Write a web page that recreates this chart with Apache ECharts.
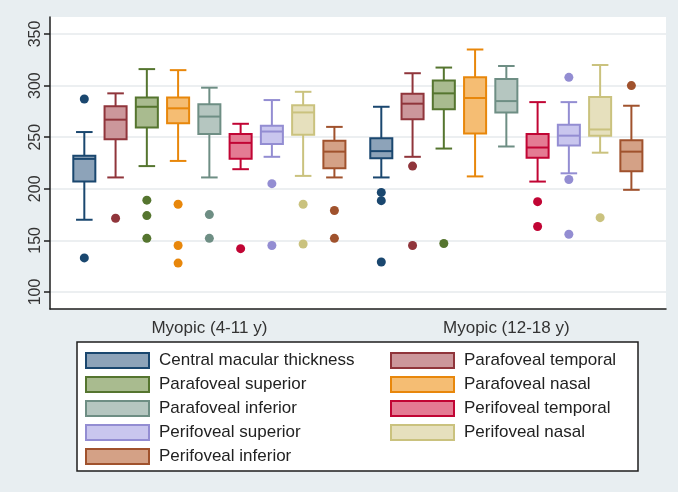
<!DOCTYPE html>
<html><head><meta charset="utf-8">
<script src="https://cdn.jsdelivr.net/npm/echarts@6/dist/echarts.min.js"></script>
<style>html,body{margin:0;padding:0;background:#fff}#c{width:678px;height:492px}</style>
</head><body><div id="c"></div>
<script>
const groups = ['Myopic (4-11 y)', 'Myopic (12-18 y)'];
const measures = ['Central macular thickness', 'Parafoveal temporal', 'Parafoveal superior',
  'Parafoveal nasal', 'Parafoveal inferior', 'Perifoveal temporal', 'Perifoveal superior',
  'Perifoveal nasal', 'Perifoveal inferior'];
// [lower whisker, Q1, median, Q3, upper whisker]
const box4to11 = [
  [170, 207, 229, 232, 255],
  [211, 248, 267, 280, 292.5],
  [222, 259.5, 279.5, 288.5, 316],
  [227, 263.5, 278, 288.5, 315],
  [211, 253, 270, 282, 298],
  [219, 229, 244.5, 253, 263],
  [231, 243.5, 255.5, 261, 286],
  [212.5, 252.5, 274, 281, 294],
  [211, 220, 236, 246.5, 260]
];
const box12to18 = [
  [211, 229.5, 236.5, 249, 279.5],
  [231, 267.5, 282.5, 292, 312],
  [239, 277, 292.5, 305, 317.5],
  [212, 253.5, 288, 308, 335],
  [241, 274, 285, 306.5, 319],
  [207, 230, 240, 253, 284],
  [215, 242, 251.5, 262, 284],
  [235, 251.5, 257.5, 289, 320],
  [199, 217, 236, 247, 280.5]
];
const outliers4to11 = [
  [287, 133], [171.5], [189, 174, 152], [185, 145, 128], [175, 152],
  [142], [205, 145], [185, 146.5], [179, 152]
];
const outliers12to18 = [
  [196.5, 188.5, 129], [222, 145], [147], [], [],
  [187.5, 163.5], [308, 209, 156], [172], [300]
];
const yTicks = [100, 150, 200, 250, 300, 350];

const lineColors = ['#1a476f', '#90353b', '#55752f', '#e8870b', '#6e8e84', '#c10534', '#938dd2', '#cac27e', '#a0522d'];
const fillColors = ['#8da3b9', '#cc979b', '#a9bb8f', '#f5bd73', '#b5c6c0', '#e47b93', '#c9c6ee', '#e6e0bd', '#d4a186'];

const boxes = [box4to11, box12to18];
const outliers = [outliers4to11, outliers12to18];
const groupStart = [0, 19];
const slotCount = 36;
const slotLabels = Array(slotCount).fill('');
groups.forEach((g, gi) => { slotLabels[groupStart[gi] + 8] = g; });

const FONT = 'Liberation Sans, Arial, sans-serif';

function makeRender(i) {
  return function (params, api) {
    const x = api.value(0);
    const p = [1, 2, 3, 4, 5].map(d => api.coord([x, api.value(d)]));
    const cx = p[0][0];
    const slot = api.size([1, 0])[0];
    const bw = slot * 1.41, cw = slot * 1.06;
    const ls = { stroke: lineColors[i], lineWidth: 2 };
    return {
      type: 'group',
      children: [
        { type: 'line', shape: { x1: cx, y1: p[3][1], x2: cx, y2: p[4][1] }, style: ls },
        { type: 'line', shape: { x1: cx, y1: p[1][1], x2: cx, y2: p[0][1] }, style: ls },
        { type: 'line', shape: { x1: cx - cw / 2, y1: p[4][1], x2: cx + cw / 2, y2: p[4][1] }, style: ls },
        { type: 'line', shape: { x1: cx - cw / 2, y1: p[0][1], x2: cx + cw / 2, y2: p[0][1] }, style: ls },
        { type: 'rect', shape: { x: cx - bw / 2, y: p[3][1], width: bw, height: p[1][1] - p[3][1] },
          style: { fill: fillColors[i], stroke: lineColors[i], lineWidth: 2 } },
        { type: 'line', shape: { x1: cx - bw / 2, y1: p[2][1], x2: cx + bw / 2, y2: p[2][1] }, style: ls }
      ]
    };
  };
}

const series = [];
measures.forEach((m, i) => {
  series.push({
    type: 'custom', name: m, xAxisIndex: 1, yAxisIndex: 1,
    itemStyle: { color: fillColors[i], borderColor: lineColors[i], borderWidth: 2 },
    encode: { x: 0, y: [1, 2, 3, 4, 5] },
    renderItem: makeRender(i),
    data: groups.map((g, gi) => [groupStart[gi] + 2 * i].concat(boxes[gi][i]))
  });
});
measures.forEach((m, i) => {
  const pts = [];
  groups.forEach((g, gi) => outliers[gi][i].forEach(v => pts.push([groupStart[gi] + 2 * i, v])));
  series.push({
    type: 'scatter', name: m + ' (outliers)', xAxisIndex: 1, yAxisIndex: 1,
    symbol: 'circle', symbolSize: 9,
    itemStyle: { color: lineColors[i], opacity: 1 },
    data: pts
  });
});

function legendData(par) {
  return measures.map((m, i) => ({ m, i })).filter(o => o.i % 2 === par).map(o => ({
    name: o.m,
    itemStyle: { color: fillColors[o.i], borderColor: lineColors[o.i], borderWidth: 2 }
  }));
}
const legendCommon = {
  orient: 'vertical', top: 352, padding: 0, itemGap: 7, itemWidth: 63, itemHeight: 15,
  icon: 'rect', selectedMode: false,
  textStyle: { fontSize: 17, lineHeight: 16, color: '#222', fontFamily: FONT, padding: [0, 0, 0, 5] }
};

const chart = echarts.init(document.getElementById('c'));
chart.setOption({
  animation: false,
  backgroundColor: '#e8eef1',
  graphic: [{
    type: 'rect', z: -1, silent: true,
    shape: { x: 77, y: 342, width: 561, height: 129 },
    style: { fill: '#ffffff', stroke: '#1e1e1e', lineWidth: 1.5 }
  }],
  grid: [
    { left: 50, right: 12, top: 17, bottom: 183, show: true, backgroundColor: '#ffffff', borderWidth: 0 },
    { left: 76.5, right: 38.8, top: 17, bottom: 183 }
  ],
  xAxis: [
    { gridIndex: 0, type: 'value', min: 0, max: 1,
      axisLine: { show: true, onZero: false, lineStyle: { color: '#1e1e1e', width: 1.5 } },
      axisTick: { show: false }, axisLabel: { show: false }, splitLine: { show: false } },
    { gridIndex: 1, type: 'category', data: slotLabels,
      axisLine: { show: false }, axisTick: { show: false },
      axisLabel: { interval: 0, margin: 11, fontSize: 17, color: '#333', fontFamily: FONT } }
  ],
  yAxis: [
    { gridIndex: 0, type: 'value', min: 83.5, max: 366.5,
      axisLine: { show: true, lineStyle: { color: '#1e1e1e', width: 1.5 } },
      axisTick: { show: true, length: 6, customValues: yTicks, lineStyle: { color: '#1e1e1e', width: 1.5 } },
      axisLabel: { customValues: yTicks, rotate: 90, margin: 6, fontSize: 16, color: '#333', fontFamily: FONT },
      splitLine: { show: true, lineStyle: { color: '#e6eaec', width: 1.5 } } },
    { gridIndex: 1, type: 'value', min: 83.5, max: 366.5, show: false, splitLine: { show: false } }
  ],
  legend: [
    Object.assign({ left: 85, data: legendData(0) }, legendCommon),
    Object.assign({ left: 390, data: legendData(1) }, legendCommon)
  ],
  series: series
});
</script></body></html>
